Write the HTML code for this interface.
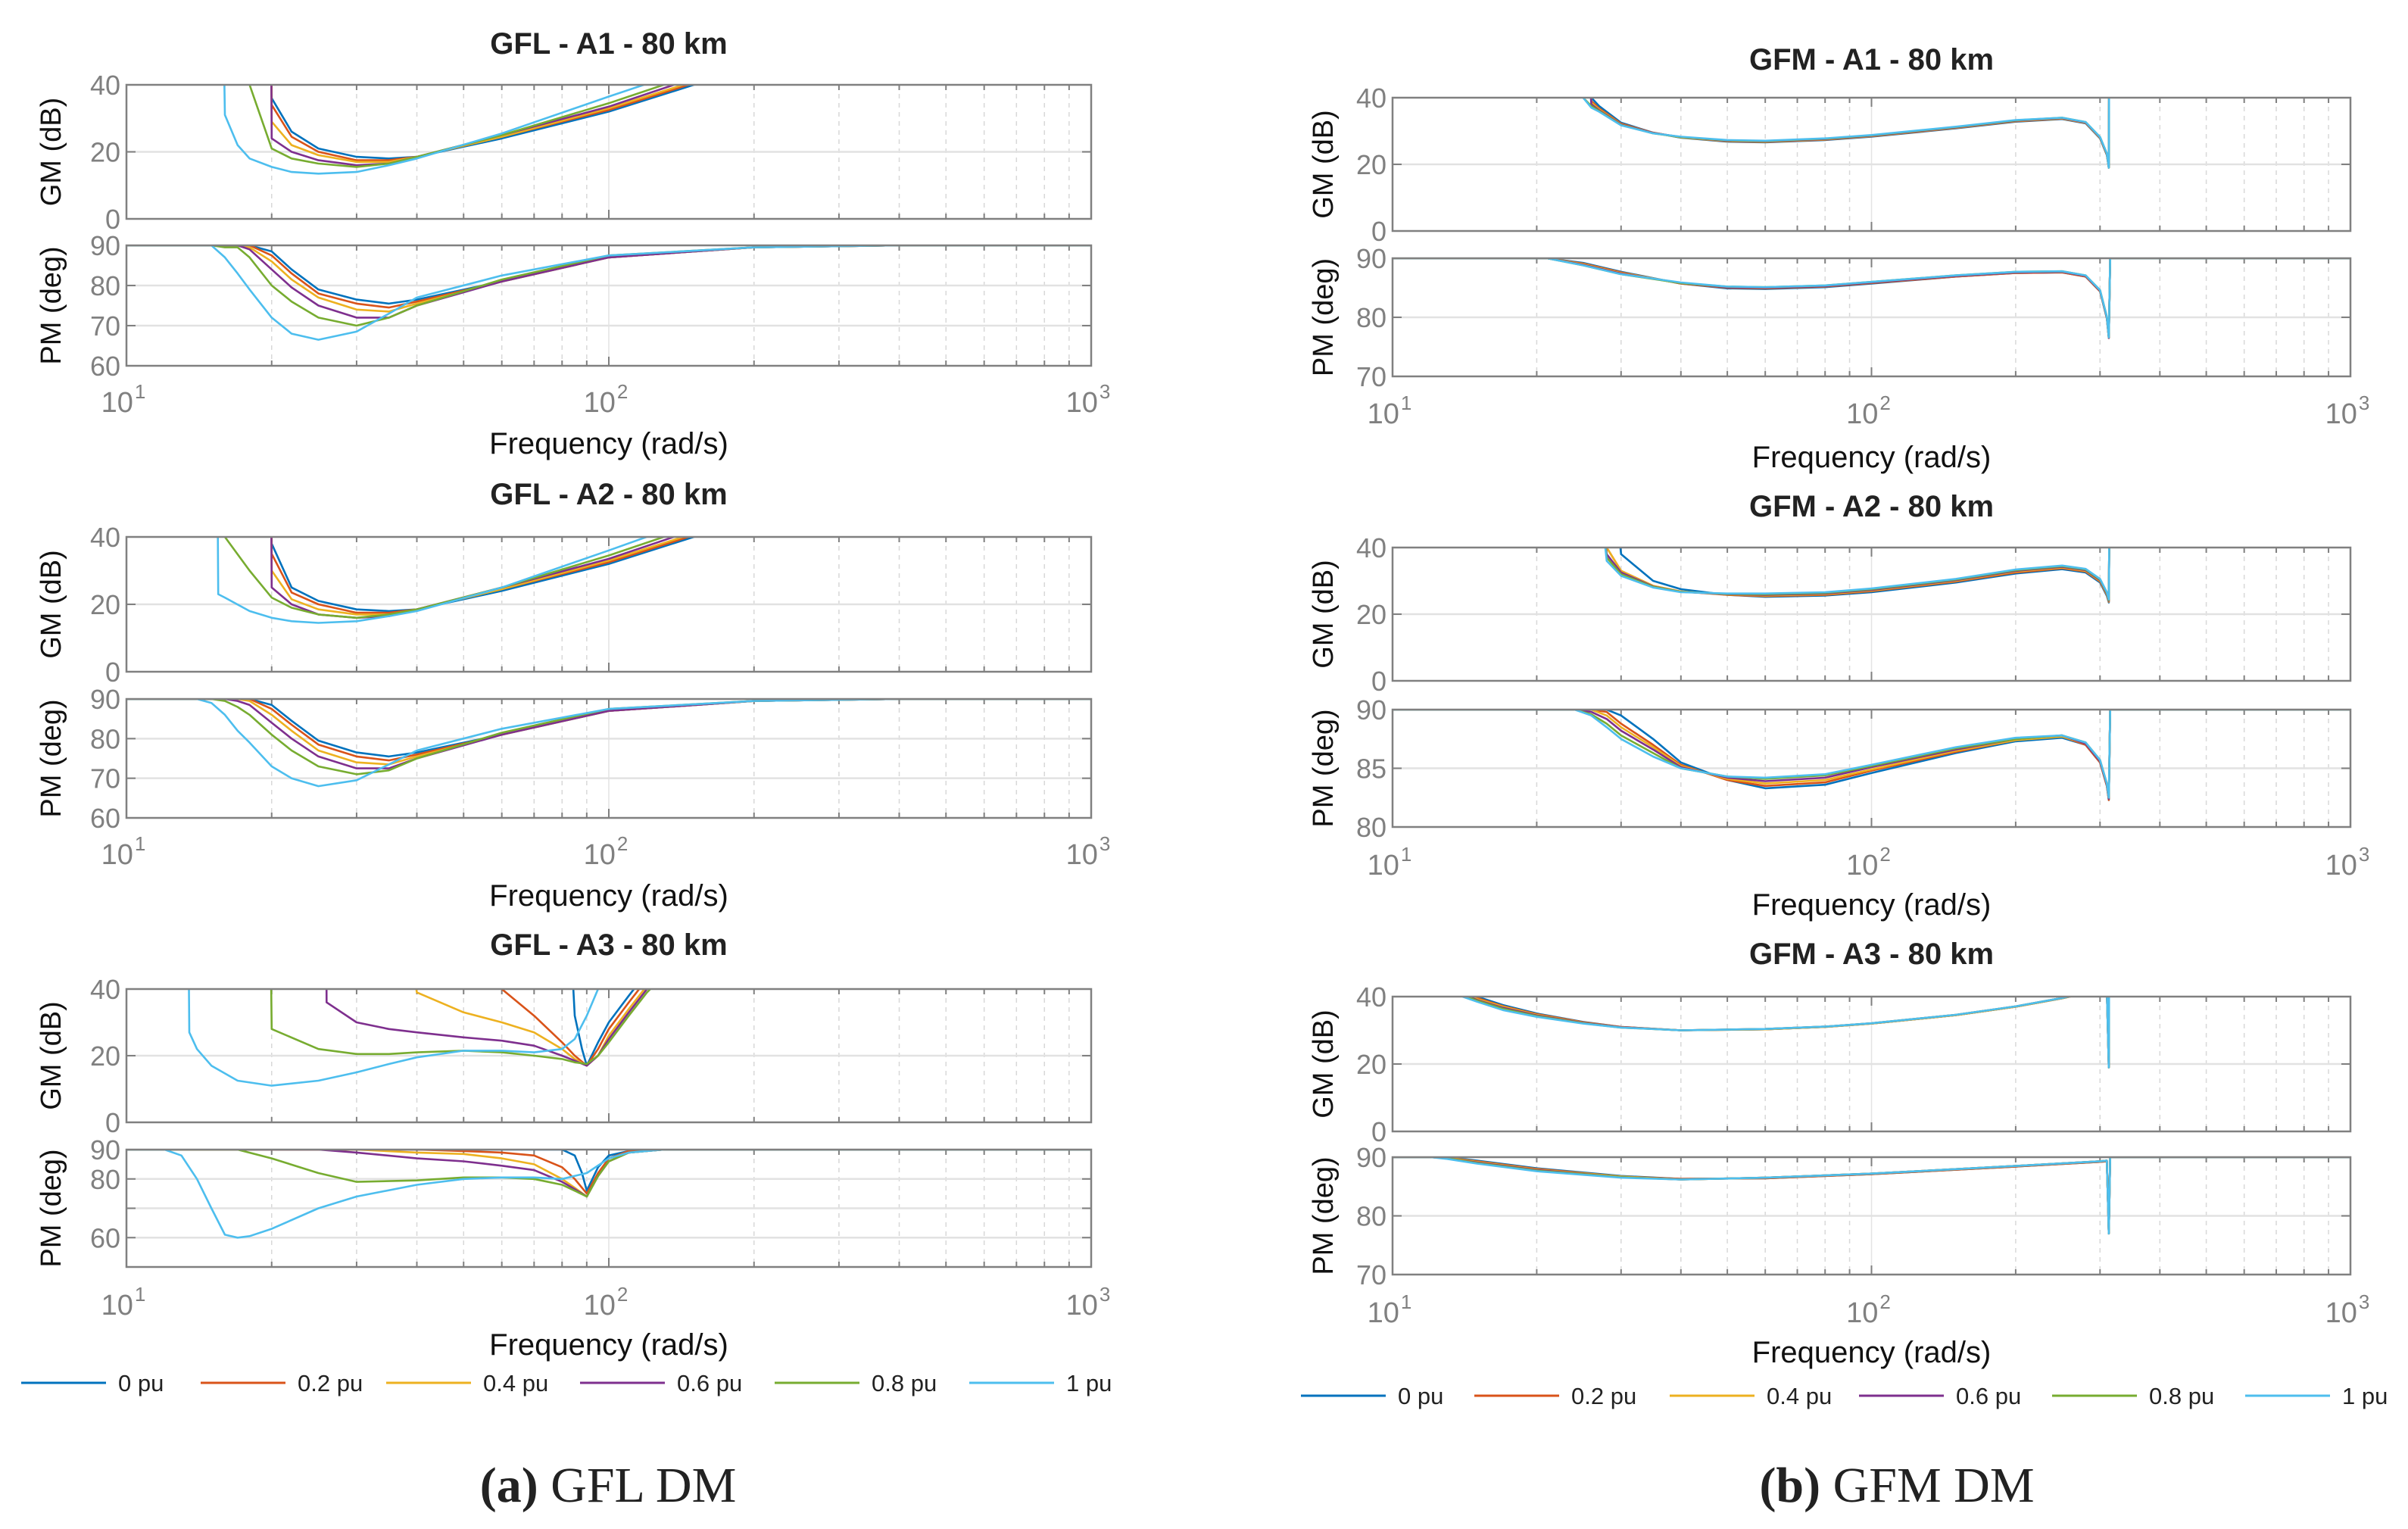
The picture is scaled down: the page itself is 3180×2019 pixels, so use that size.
<!DOCTYPE html>
<html><head><meta charset="utf-8"><style>
html,body{margin:0;padding:0;background:#fff;}
svg{display:block;}
text{font-family:"Liberation Sans",sans-serif;}
text.serif-cap, text.serif-cap tspan{font-family:"Liberation Serif",serif;}
</style></head><body>
<svg id="fig" width="3180" height="2019" viewBox="0 0 3180 2019" xmlns="http://www.w3.org/2000/svg"></svg>
<script>
const seriesLabels = ["0 pu","0.2 pu","0.4 pu","0.6 pu","0.8 pu","1 pu"];
const seriesColors = ["#0072BD","#D95319","#EDB120","#7E2F8E","#77AC30","#4DBEEE"];
const xTickExps = [1,2,3];
const panelTitles = ["GFL - A1 - 80 km","GFL - A2 - 80 km","GFL - A3 - 80 km","GFM - A1 - 80 km","GFM - A2 - 80 km","GFM - A3 - 80 km"];

// GFL A1
const gflA1GmF = [
 [19.9,20,22,25,30,35,40,60,100,150,200],
 [19.9,20,22,25,30,35,40,60,100,150,200],
 [19.9,20,22,25,30,35,40,60,100,150,200],
 [19.9,20,22,25,30,35,40,60,100,150,200],
 [17.5,18,20,22,25,30,35,40,60,100,150,200],
 [15.8,16,17,18,20,22,25,30,35,40,60,100,150]];
const gflA1GmV = [
 [80,36,26,21,18.5,18,18.5,24,32,40,46],
 [80,34,24.5,20,17.5,17.5,18.5,24.5,32.5,40.5,47],
 [80,29,22,19,17,17,18.5,24.5,33,41,48],
 [80,24,20,17.5,16,16.5,18.5,25,33.5,42,49],
 [80,40,21,18,16.5,15.5,16.5,18.5,25,34.5,43,50],
 [80,31,22,18,15.5,14,13.5,14,16,18,25.5,36.5,45]];
const gflA1PmF = [10,15,16,17,18,20,22,25,30,35,40,60,100,200,400,1000];
const gflA1PmV = [
 [90,90,90,90,90,88.5,84,79,76.5,75.5,76.5,81,87,89.5,90,90],
 [90,90,90,90,90,87.5,83,78,75.5,74.5,76,81,87,89.5,90,90],
 [90,90,90,90,89.5,86,81.5,77,74,73.5,75.5,81,87,89.5,90,90],
 [90,90,90,90,89,84,79.5,75,72,72,75,81,87,89.5,90,90],
 [90,90,89.5,89.5,87,80,76,72,70,72,75,81.5,87.5,89.5,90,90],
 [90,90,87,83,79,72,68,66.5,68.5,73,77,82.5,87.5,89.5,90,90]];

// GFL A2
const gflA2GmF = [
 [19.9,20,22,25,30,35,40,60,100,150,200],
 [19.9,20,22,25,30,35,40,60,100,150,200],
 [19.9,20,22,25,30,35,40,60,100,150,200],
 [19.9,20,22,25,30,35,40,60,100,150,200],
 [15.9,16,18,20,22,25,30,35,40,60,100,150],
 [15.4,15.5,16,18,20,22,25,30,35,40,60,100,150]];
const gflA2GmV = [
 [80,38,25,21,18.5,18,18.5,24,32,40,46],
 [80,35,23.5,20,17.5,17.5,18.5,24.5,32.5,40.5,47],
 [80,30,21.5,18.5,17,17,18.5,24.5,33,41,48],
 [80,25,20,17,16,16.5,18.5,25,33.5,42,49],
 [80,40,30,22,19,17,16,17,18.5,25,34.5,43],
 [80,23,22,18,16,15,14.5,15,16.5,18,25,36,45]];
const gflA2PmF = [10,14,15,16,17,18,20,22,25,30,35,40,60,100,200,400,1000];
const gflA2PmV = [
 [90,90,90,90,90,90,88.5,84.5,79.5,76.5,75.5,76.5,81,87,89.5,90,90],
 [90,90,90,90,90,90,87.5,83.5,78.5,75.5,74.5,76,81,87,89.5,90,90],
 [90,90,90,90,90,89.5,86,82,77,74,73.5,75.5,81,87,89.5,90,90],
 [90,90,90,90,89.5,88.5,84,80,75.5,72.5,72.5,75,81,87,89.5,90,90],
 [90,90,90,89.5,88,86,81,77,73,71,72,75,81.5,87.5,89.5,90,90],
 [90,90,89,86,82,79,73,70,68,69.5,73.5,77,82.5,87.5,89.5,90,90]];

// GFL A3
const gflA3GmF = [
 [80,83,85,88,90,95,100,110,120,130],
 [56,60,70,80,85,90,95,100,110,120,130],
 [36,40,50,60,70,80,85,90,95,100,110,120,130],
 [25.9,26,30,35,40,50,60,70,80,85,90,95,100,110,120,130],
 [19.8,20,25,30,35,40,50,60,70,80,85,90,95,100,110,120,130],
 [13.4,13.5,14,15,17,20,25,30,35,40,50,60,70,80,85,90,95,100]];
const gflA3GmV = [
 [80,60,32,22,17,24,30,38,45,50],
 [80,40,32,24,20,17,22,28,36,43,48],
 [80,39,33,30,27,22,19,17,20,26,34,41,46],
 [80,36,30,28,27,25.5,24.5,23,20,18.5,17,20,25,33,40,45],
 [80,28,22,20.5,20.5,21,21.5,21,20,19,18,17.5,20,24,32,39,44],
 [80,27,22,17,12.5,11,12.5,15,17.5,19.5,21.5,21.5,21,22,25,32,40,48]];
const gflA3PmF = [
 [10,80,85,88,90,95,100,110,130,1000],
 [10,40,50,60,70,80,85,90,95,100,110,130,1000],
 [10,30,40,50,60,70,80,85,90,95,100,110,130,1000],
 [10,25,30,40,50,60,70,80,85,90,95,100,110,130,1000],
 [10,17,20,25,30,40,50,60,70,80,85,90,95,100,110,130,1000],
 [10,12,13,14,15,16,17,18,20,25,30,40,50,60,70,80,90,100,110,130,1000]];
const gflA3PmV = [
 [90,90,88,82,76,84,88,89.5,90,90],
 [90,90,89.5,89,88,84,80,75,82,87,89.5,90,90],
 [90,90,89,88.5,87,85,80,77,74,81,86,89,90,90],
 [90,90,89,87,86,84.5,83,79,76.5,74,81,86,89,90,90],
 [90,90,87,82,79,79.5,80.5,80.5,80,78,76,74,81,86,89,90,90],
 [90,90,88,80,70,61,60,60.5,63,70,74,78,80,80.5,80.5,80,82,87,89,90,90]];

// GFM A1
const gfmA1GmF = [25,26,27,30,35,40,50,60,80,100,150,200,250,280,300,310,313,314,1000];
const gfmA1GmV = [
 [80,40,37.5,32.5,29.5,28,26.8,26.6,27.3,28.3,30.8,32.8,33.6,32.3,27.8,22.8,19,80,80],
 [80,39,36.8,32.2,29.5,28.1,26.9,26.7,27.4,28.4,30.9,32.9,33.7,32.4,27.9,22.9,19,80,80],
 [80,38.5,36.5,32,29.4,28.1,27,26.8,27.5,28.5,31,33,33.8,32.5,28,23,19,80,80],
 [80,38,36.2,31.9,29.4,28.2,27.1,26.9,27.6,28.6,31.1,33.1,33.9,32.6,28.1,23.1,19,80,80],
 [40,37.5,36,31.8,29.3,28.2,27.2,27,27.7,28.7,31.2,33.2,34,32.7,28.2,23.2,19,80,80],
 [40,37,35.8,31.7,29.3,28.3,27.3,27.1,27.8,28.8,31.3,33.3,34,32.7,28.2,23.3,19,80,80]];
const gfmA1PmF = [10,21,25,30,40,50,60,80,100,150,200,250,280,300,310,313,315,1000];
const gfmA1PmV = [
 [90,90,89.2,87.7,85.7,84.9,84.8,85.1,85.7,86.9,87.5,87.6,86.9,84.4,79.8,76.5,90,90],
 [90,90,89.1,87.6,85.7,85,84.9,85.2,85.8,86.9,87.5,87.6,86.9,84.4,79.9,76.5,90,90],
 [90,90,89,87.5,85.8,85.1,85,85.3,85.9,87,87.6,87.7,87,84.5,80,76.5,90,90],
 [90,90,88.9,87.4,85.8,85.1,85,85.3,85.9,87,87.6,87.7,87,84.5,80,76.5,90,90],
 [90,90,88.8,87.3,85.8,85.2,85.1,85.4,86,87.1,87.7,87.8,87.1,84.6,80.1,76.6,90,90],
 [90,90,88.8,87.3,85.9,85.2,85.1,85.4,86,87.1,87.7,87.8,87.1,84.6,80.1,76.6,90,90]];

// GFM A2
const gfmA2GmF = [26,28,30,35,40,50,60,80,100,150,200,250,280,300,310,313,315,1000];
const gfmA2GmV = [
 [80,80,38,30,27.5,25.8,25.2,25.6,26.6,29.5,32.2,33.5,32.5,29.5,25.5,23.5,80,80],
 [80,40,33,28.5,26.8,25.8,25.4,25.8,26.9,29.8,32.5,33.8,32.8,29.8,25.8,23.7,80,80],
 [80,40,33,28.5,26.8,25.9,25.6,26,27.1,30,32.8,34,33,30,26,23.8,80,80],
 [80,38,32.5,28.3,26.7,26,25.8,26.2,27.3,30.2,33,34.2,33.2,30.2,26.2,24,80,80],
 [80,37,32,28.2,26.7,26.1,26,26.4,27.5,30.4,33.2,34.4,33.4,30.4,26.4,24.2,80,80],
 [80,36,31.5,28,26.6,26.2,26.2,26.6,27.7,30.6,33.4,34.6,33.6,30.6,26.6,24.4,80,80]];
const gfmA2PmF = [10,24,26,28,30,35,40,50,60,80,100,150,200,250,280,300,310,313,315,1000];
const gfmA2PmV = [
 [90,90,90,90,89.5,87.5,85.5,84,83.3,83.6,84.6,86.3,87.3,87.6,87,85.5,83.5,82.3,90,90],
 [90,90,90,89.8,88.8,87,85.3,84,83.5,83.8,84.8,86.4,87.4,87.7,87,85.5,83.5,82.3,90,90],
 [90,90,90,89.5,88.5,86.8,85.2,84.1,83.7,84,84.9,86.5,87.4,87.7,87.1,85.6,83.6,82.4,90,90],
 [90,90,89.8,89.2,88.2,86.6,85.1,84.2,83.9,84.2,85.1,86.6,87.5,87.8,87.1,85.6,83.6,82.4,90,90],
 [90,90,89.6,88.8,87.8,86.3,85,84.3,84.1,84.4,85.2,86.7,87.5,87.8,87.2,85.7,83.7,82.5,90,90],
 [90,90,89.5,88.5,87.5,86,85,84.3,84.2,84.5,85.3,86.8,87.6,87.8,87.2,85.7,83.7,82.5,90,90]];

// GFM A3
const gfmA3GmF = [13,14,15,17,20,25,30,40,60,80,100,150,200,250,300,310,313,314,1000];
const gfmA3GmV = [
 [80,42,40,37.5,35,32.5,31,30,30.3,31,32,34.5,37,39.5,42,42,19,80,80],
 [80,41.5,39.6,37.2,34.8,32.4,31,30,30.3,31,32,34.5,37,39.5,42,42,19,80,80],
 [80,41,39.3,37,34.6,32.3,30.9,30,30.3,31,32,34.5,37,39.5,42,42,19,80,80],
 [80,40.8,39,36.7,34.4,32.2,30.9,30,30.4,31.1,32.1,34.6,37.1,39.6,42,42,19,80,80],
 [80,40.5,38.8,36.4,34.2,32.1,30.8,30,30.4,31.1,32.1,34.6,37.1,39.6,42,42,19,80,80],
 [80,40,38.5,36,34,32,30.8,30,30.4,31.1,32.1,34.6,37.1,39.6,42,42,19,80,80]];
const gfmA3PmF = [10,12,13,15,20,30,40,60,100,200,300,310,313,315,1000];
const gfmA3PmV = [
 [90,90,90,89.4,88.1,86.8,86.3,86.4,87.1,88.4,89.2,89.3,77,90,90],
 [90,90,89.9,89.3,88,86.7,86.3,86.4,87.1,88.4,89.2,89.3,77,90,90],
 [90,90,89.9,89.2,87.9,86.7,86.2,86.5,87.2,88.5,89.3,89.4,77,90,90],
 [90,90,89.8,89.1,87.8,86.6,86.2,86.5,87.2,88.5,89.3,89.4,77,90,90],
 [90,90,89.8,89,87.7,86.6,86.2,86.5,87.2,88.5,89.3,89.4,77,90,90],
 [90,90,89.7,88.9,87.6,86.5,86.2,86.5,87.2,88.5,89.3,89.4,77,90,90]];

const gmTicks = [0,20,40];
const pmTicksA = [60,70,80,90];
const pmTicksA3 = [50,60,70,80,90];
const pmTicksA3Labels = [60,80,90];
const pmTicksGfm = [70,80,90];
const pmTicksGfmA2 = [80,85,90];

const NS = "http://www.w3.org/2000/svg";
const svg = document.getElementById('fig');
function el(tag, attrs, parent){const e=document.createElementNS(NS,tag);for(const k in attrs)e.setAttribute(k,attrs[k]);(parent||svg).appendChild(e);return e;}

const cols = [{L:167,R:1441,ylx:67},{L:1839,R:3104,ylx:1747}];
const rowsL = [{t:57,gm:[112,289],pm:[324,483],tk:530,xl:585},{t:652,gm:[709,887],pm:[923,1080],tk:1127,xl:1182},{t:1247,gm:[1306,1482],pm:[1518,1673],tk:1722,xl:1775}];
const rowsR = [{t:78,gm:[129,305],pm:[341,497],tk:545,xl:603},{t:668,gm:[723,899],pm:[937,1092],tk:1141,xl:1194},{t:1259,gm:[1316,1494],pm:[1528,1683],tk:1732,xl:1785}];

const panels = [
 {c:0,r:rowsL[0],gmF:gflA1GmF,gmV:gflA1GmV,pmF:gflA1PmF,pmV:gflA1PmV,pmR:[60,90],pmT:pmTicksA,pmL:pmTicksA},
 {c:0,r:rowsL[1],gmF:gflA2GmF,gmV:gflA2GmV,pmF:gflA2PmF,pmV:gflA2PmV,pmR:[60,90],pmT:pmTicksA,pmL:pmTicksA},
 {c:0,r:rowsL[2],gmF:gflA3GmF,gmV:gflA3GmV,pmF:gflA3PmF,pmV:gflA3PmV,pmR:[50,90],pmT:pmTicksA3,pmL:pmTicksA3Labels},
 {c:1,r:rowsR[0],gmF:gfmA1GmF,gmV:gfmA1GmV,pmF:gfmA1PmF,pmV:gfmA1PmV,pmR:[70,90],pmT:pmTicksGfm,pmL:pmTicksGfm},
 {c:1,r:rowsR[1],gmF:gfmA2GmF,gmV:gfmA2GmV,pmF:gfmA2PmF,pmV:gfmA2PmV,pmR:[80,90],pmT:pmTicksGfmA2,pmL:pmTicksGfmA2},
 {c:1,r:rowsR[2],gmF:gfmA3GmF,gmV:gfmA3GmV,pmF:gfmA3PmF,pmV:gfmA3PmV,pmR:[70,90],pmT:pmTicksGfm,pmL:pmTicksGfm}];

let clipId=0;
function drawAxes(p, idx, kind, top, bot, yr, ticks, labels, Fs, Vs){
  const col=cols[p.c], L=col.L, R=col.R;
  const xs = f => L + (Math.log10(f)-1)/2*(R-L);
  const ys = v => bot - (v-yr[0])/(yr[1]-yr[0])*(bot-top);
  const g = el('g',{});
  
  
  for(let d=1; d<=2; d++){
    for(let m=1;m<=9;m++){
      const f=m*Math.pow(10,d); if(f<=10||f>=1000) continue;
      const x=xs(f);
      if(m===1){ el('line',{x1:x,x2:x,y1:top,y2:bot,stroke:'#e4e4e4','stroke-width':1.5},g); }
      else { el('line',{x1:x,x2:x,y1:top,y2:bot,stroke:'#d8d8d8','stroke-width':1.5,'stroke-dasharray':'6,6'},g); }
      el('line',{x1:x,x2:x,y1:bot,y2:bot-(m===1?12:7),stroke:'#808080','stroke-width':2},g);
      el('line',{x1:x,x2:x,y1:top,y2:top+(m===1?12:7),stroke:'#808080','stroke-width':2},g);
    }
  }
  ticks.forEach(t=>{
    const y=ys(t);
    if(t!==yr[0]&&t!==yr[1]) el('line',{x1:L,x2:R,y1:y,y2:y,stroke:'#e2e2e2','stroke-width':2.5},g);
    el('line',{x1:L,x2:L+12,y1:y,y2:y,stroke:'#808080','stroke-width':2},g);
    el('line',{x1:R,x2:R-12,y1:y,y2:y,stroke:'#808080','stroke-width':2},g);
  });
  labels.forEach(t=>{
    const tx=el('text',{x:L-8,y:ys(t)+13,'text-anchor':'end','font-size':36,fill:'#808080'},g);
    tx.textContent=t;
    
    
  });
  const cid='clip'+(clipId++);
  const cp=el('clipPath',{id:cid},g); el('rect',{x:L,y:top,width:R-L,height:bot-top},cp);
  const lg=el('g',{'clip-path':`url(#${cid})`},g);
  for(let s=0;s<6;s++){
    const F = Array.isArray(Fs[0]) ? Fs[s] : Fs;
    const V = Vs[s];
    const pts = F.map((f,i)=>xs(f).toFixed(1)+','+ys(V[i]).toFixed(1)).join(' ');
    const pl=el('polyline',{points:pts,fill:'none',stroke:seriesColors[s],'stroke-width':2.6,'stroke-linejoin':'round'},lg);
    
    
  }
  el('rect',{x:L,y:top,width:R-L,height:bot-top,fill:'none',stroke:'#808080','stroke-width':2.5},g);
  const yl=el('text',{transform:`translate(${col.ylx+13},${(top+bot)/2}) rotate(-90)`,'text-anchor':'middle','font-size':38,fill:'#111'},g);
  yl.textContent = kind==='gm' ? 'GM (dB)' : 'PM (deg)';
  
  
}

panels.forEach((p,i)=>{
  const col=cols[p.c], r=p.r;
  const t=el('text',{x:(col.L+col.R)/2,y:r.t+14,'text-anchor':'middle','font-size':40,'font-weight':'bold',fill:'#222'});
  t.textContent=panelTitles[i];
  
  
  drawAxes(p,i,'gm',r.gm[0],r.gm[1],[0,40],gmTicks,gmTicks,p.gmF,p.gmV);
  drawAxes(p,i,'pm',r.pm[0],r.pm[1],p.pmR,p.pmT,p.pmL,p.pmF,p.pmV);
  xTickExps.forEach(e=>{
    const x = col.L + (e-1)/2*(col.R-col.L);
    const tx=el('text',{x:x-4,y:r.tk+14,'text-anchor':'middle','font-size':38,fill:'#808080'});
    tx.textContent='10';
    const sup=el('tspan',{dx:2,dy:-18,'font-size':26},tx); sup.textContent=String(e);
    
    
  });
  const xl=el('text',{x:(col.L+col.R)/2,y:r.xl+14,'text-anchor':'middle','font-size':40,fill:'#111'});
  xl.textContent='Frequency (rad/s)';
  
  
});

const legendLineX = [[28,265,510,766,1023,1280],[1718,1947,2205,2455,2710,2965]];
const legendY = [1826,1843];
[0,1].forEach(c=>{
  const g=el('g',{});
  
  
  for(let s=0;s<6;s++){
    const x=legendLineX[c][s], y=legendY[c];
    el('line',{x1:x,x2:x+112,y1:y,y2:y,stroke:seriesColors[s],'stroke-width':3},g);
    const tx=el('text',{x:x+128,y:y+11,'font-size':31,fill:'#222'},g);
    tx.textContent=seriesLabels[s];
    
    
  }
});

const caps=[{x:803,b:'(a)',t:' GFL DM'},{x:2505,b:'(b)',t:' GFM DM'}];
caps.forEach(c=>{
  const tx=el('text',{x:c.x,y:1983,'text-anchor':'middle','font-size':66,fill:'#222','class':'serif-cap'});
  const b=el('tspan',{'font-weight':'bold'},tx); b.textContent=c.b;
  const n=el('tspan',{},tx); n.textContent=c.t;
  
  
});
</script>
</body></html>
